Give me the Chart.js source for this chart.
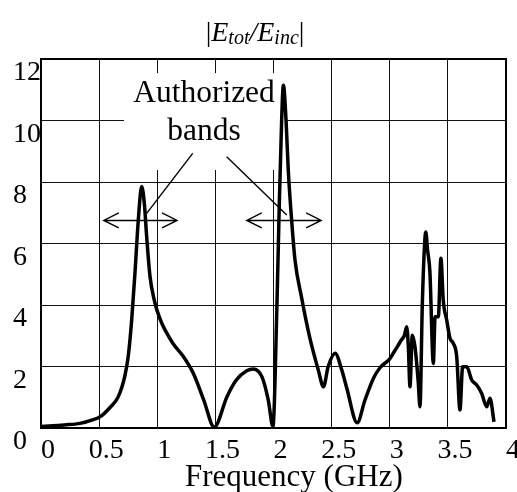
<!DOCTYPE html>
<html>
<head>
<meta charset="utf-8">
<script src="https://cdn.jsdelivr.net/npm/chart.js@4/dist/chart.umd.min.js"></script>
<style>
  html, body { margin: 0; padding: 0; background: #fff; }
  #wrap { width: 517px; height: 492px; }
</style>
</head>
<body>
<div id="wrap"><canvas id="chart" width="517" height="492"></canvas></div>
<script>
// frequency in GHz
var frequency = [
    0.00, 0.10, 0.20, 0.335, 0.43, 0.51, 0.59, 0.665, 0.72, 0.75
  , 0.78, 0.81, 0.837, 0.866, 0.889, 0.909, 0.938, 0.975, 1.00, 1.04
  , 1.08, 1.14, 1.22, 1.31, 1.40, 1.49, 1.60, 1.68, 1.77, 1.826
  , 1.90, 1.955, 1.995, 2.03, 2.05, 2.07, 2.085, 2.108, 2.127, 2.156
  , 2.185, 2.24, 2.31, 2.385, 2.43, 2.47, 2.53, 2.587, 2.63, 2.72
  , 2.787, 2.86, 2.916, 3.00, 3.03, 3.074, 3.10, 3.125, 3.146, 3.16
  , 3.174, 3.194, 3.217, 3.245, 3.26, 3.28, 3.30, 3.31, 3.325, 3.345
  , 3.375, 3.39, 3.418, 3.44, 3.46, 3.49, 3.518, 3.547, 3.576, 3.604
  , 3.627, 3.662, 3.705, 3.748, 3.79, 3.834, 3.862, 3.897
]

// |Etot/Einc|
var fieldRatio = [
    0.05, 0.07, 0.10, 0.15, 0.25, 0.37, 0.65, 1.02, 1.67, 2.32
  , 3.51, 5.14, 6.76, 7.85, 7.30, 6.22, 4.92, 4.15, 3.80, 3.40
  , 3.10, 2.72, 2.35, 1.78, 0.91, 0.03, 1.02, 1.56, 1.86, 1.92
  , 1.67, 0.91, 0.05, 4.06, 7.30, 10.0, 11.15, 10.0, 8.39, 6.76
  , 5.46, 4.27, 2.97, 1.89, 1.34, 1.99, 2.43, 1.89, 1.30, 0.17
  , 0.91, 1.62, 1.96, 2.25, 2.43, 2.70, 2.86, 3.00, 3.29, 2.64
  , 1.34, 3.02, 2.64, 1.50, 0.69, 4.00, 6.00, 6.37, 5.80, 5.10
  , 2.10, 3.62, 3.62, 5.52, 4.16, 3.51, 2.92, 2.75, 2.32, 0.59
  , 1.99, 1.99, 1.56, 1.40, 1.13, 0.69, 0.97, 0.20
]

var xTickStep = 0.5
  , yTickStep = 2
  , bandLabel = ['Authorized', 'bands']
  , xTitle    = 'Frequency (GHz)'

var serif = '"Liberation Serif", "Times New Roman", serif'

var points = []
for (var i = 0; i < frequency.length; i++) {
  points.push({ x: frequency[i], y: fieldRatio[i] })
}

// annotations in data units: text box, double arrows, leader lines
var decorations = {
  id: 'decorations'

, beforeDatasetsDraw: function (chart) {
    var
        ctx  = chart.ctx
      , xs   = chart.scales.x
      , ys   = chart.scales.y
      , area = chart.chartArea

    // white box behind the "Authorized bands" text
    var
        bx0 = xs.getPixelForValue(0.714)
      , bx1 = xs.getPixelForValue(2.099)
      , by0 = ys.getPixelForValue(11.54)
      , by1 = ys.getPixelForValue(8.39)
    ctx.save()
    ctx.fillStyle = '#fff'
    ctx.fillRect(bx0, by0, bx1 - bx0, by1 - by0)

    // plot frame
    ctx.strokeStyle = '#000'
    ctx.lineWidth = 2
    ctx.strokeRect(area.left, area.top, area.right - area.left, area.bottom - area.top)
    ctx.restore()
  }

, afterDatasetsDraw: function (chart) {
    var
        ctx = chart.ctx
      , xs  = chart.scales.x
      , ys  = chart.scales.y
      , px  = function (v) { return xs.getPixelForValue(v) }
      , py  = function (v) { return ys.getPixelForValue(v) }

    ctx.save()
    ctx.strokeStyle = '#000'
    ctx.fillStyle = '#000'
    ctx.lineWidth = 1.4

    var doubleArrow = function (x0, x1, y) {
      var a = px(x0), b = px(x1), c = py(y)
      ctx.beginPath()
      ctx.moveTo(a, c); ctx.lineTo(b, c)
      ctx.moveTo(a + 15, c - 7.5); ctx.lineTo(a, c); ctx.lineTo(a + 15, c + 7.5)
      ctx.moveTo(b - 15, c - 7.5); ctx.lineTo(b, c); ctx.lineTo(b - 15, c + 7.5)
      ctx.stroke()
    }
    doubleArrow(0.54, 1.17, 6.75)
    doubleArrow(1.77, 2.41, 6.75)

    ctx.beginPath()
    ctx.moveTo(px(1.305), py(8.93)); ctx.lineTo(px(0.909), py(6.98))
    ctx.moveTo(px(1.597), py(8.82)); ctx.lineTo(px(2.114), py(6.93))
    ctx.stroke()

    // band label
    ctx.font = '31.5px ' + serif
    ctx.textAlign = 'center'
    ctx.textBaseline = 'alphabetic'
    ctx.fillText(bandLabel[0], 204, 101.5)
    ctx.fillText(bandLabel[1], 204, 140)

    // x axis title
    ctx.font = '31px ' + serif
    ctx.textAlign = 'left'
    ctx.fillText(xTitle, 185, 486)

    // y axis title at the top: |E_tot/E_inc|
    var parts = [
        { t: '|',   f: '28px ' + serif,          dy: 0 }
      , { t: 'E',   f: 'italic 28px ' + serif,   dy: 0 }
      , { t: 'tot', f: 'italic 20px ' + serif,   dy: 3 }
      , { t: '/',   f: 'italic 28px ' + serif,   dy: 0 }
      , { t: 'E',   f: 'italic 28px ' + serif,   dy: 0 }
      , { t: 'inc', f: 'italic 20px ' + serif,   dy: 3 }
      , { t: '|',   f: '28px ' + serif,          dy: 0 }
    ]
    var total = 0
    for (var k = 0; k < parts.length; k++) {
      ctx.font = parts[k].f
      parts[k].w = ctx.measureText(parts[k].t).width
      total += parts[k].w
    }
    var cx = 255 - total / 2
    for (var k = 0; k < parts.length; k++) {
      ctx.font = parts[k].f
      ctx.fillText(parts[k].t, cx, 41 + parts[k].dy)
      cx += parts[k].w
    }
    ctx.restore()
  }
}

// plain number labels: 0, 0.5, 1, 1.5 ...
var plainLabel = function (value) { return String(value) }

new Chart(document.getElementById('chart'), {
    type: 'line'
  , data: {
      datasets: [{
          data: points
        , borderColor: '#000'
        , borderWidth: 3.5
        , pointRadius: 0
        , fill: false
        , cubicInterpolationMode: 'monotone'
      }]
    }
  , options: {
      responsive: false
    , devicePixelRatio: 1
    , animation: false
    , layout: { padding: { left: 13, right: 11, top: 59, bottom: 18 } }
    , plugins: { legend: { display: false }, tooltip: { enabled: false } }
    , scales: {
        x: {
            type: 'linear'
          , min: 0
          , max: 4
          , grid: { color: '#111', lineWidth: 1, drawTicks: false }
          , border: { display: false }
          , afterFit: function (scale) {
              scale.paddingLeft = 0
              scale.paddingRight = 0
              scale.height = 46
            }
          , ticks: {
                stepSize: xTickStep
              , color: '#000'
              , font: { family: serif, size: 28 }
              , padding: 6
              , labelOffset: 7
              , maxRotation: 0
              , autoSkip: false
              , callback: plainLabel
            }
        }
      , y: {
            min: 0
          , max: 12
          , grid: { color: '#111', lineWidth: 1, drawTicks: false }
          , border: { display: false }
          , afterFit: function (scale) { scale.paddingTop = 0; scale.paddingBottom = 0 }
          , ticks: {
                stepSize: yTickStep
              , color: '#000'
              , font: { family: serif, size: 28 }
              , padding: 0
              , labelOffset: 14
              , crossAlign: 'far'
              , callback: plainLabel
            }
        }
      }
    }
  , plugins: [decorations]
})
</script>
</body>
</html>
